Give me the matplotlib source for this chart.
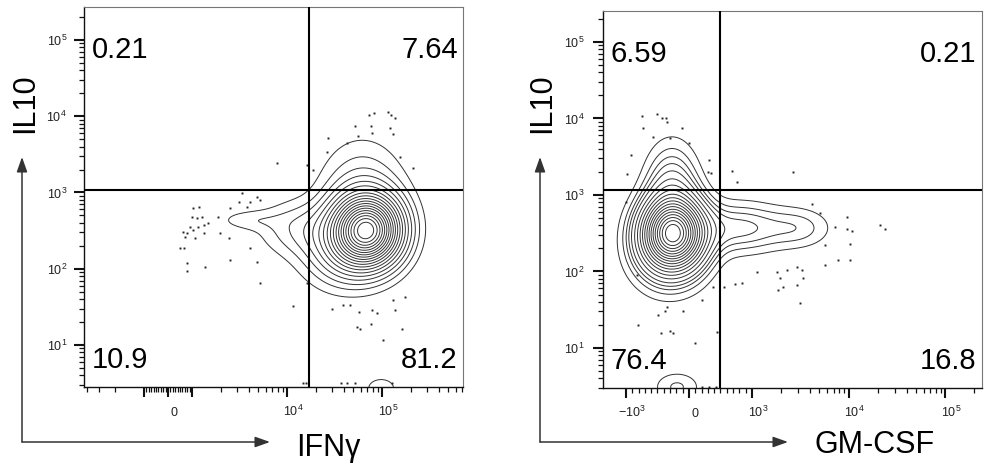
import numpy as np
import matplotlib.pyplot as plt
from matplotlib.transforms import ScaledTranslation

plt.rcParams['font.family'] = ['Liberation Sans', 'DejaVu Sans']
plt.rcParams['mathtext.default'] = 'regular'

# ---------- left plot: IFNy vs IL10 ----------
# cell populations: centre (IFNy, IL10), spread in decades, share of cells
ifn_pop_x = [69500, 61800, 40000, 13700, 3800, 98000]
ifn_pop_y = [322, 1000, 164, 342, 435, 2.7]
ifn_pop_sx = [0.23, 0.29, 0.29, 0.29, 0.22, 0.16]
ifn_pop_sy = [0.29, 0.45, 0.31, 0.24, 0.09, 0.14]
ifn_pop_w = [1.0, 0.2, 0.2, 0.09, 0.013, 0.0152]

# outlier events
ifn_dots_x = [625, 708, 500, 667, 792, 792, 1025, 1185, 1000, 1129, 1274, 917, 1025, 1157,
              1338, 1474, 792, 1075, 1338, 1370, 1878, 1971, 2512, 2455, 2512, 3125, 3360,
              3790, 4080, 4830, 5190, 7860, 4830, 5190, 4080, 11600, 16300, 16300, 18800,
              27000, 26300, 42800, 52000, 55600, 73100, 82400, 76700, 78500, 115000, 123000,
              137000, 121000, 130000, 155000, 211000,
              29700, 38900, 46000, 57000, 78500, 88400, 76700, 54400, 58300, 102000, 137000,
              163000, 175000, 130000, 14700, 16000, 37100, 42800, 52000, 127000]
ifn_dots_y = [303, 261, 187, 187, 119, 93, 627, 646, 477, 463, 477, 353, 322, 353,
              375, 398, 294, 253, 294, 105, 477, 294, 627, 253, 130, 750, 985,
              646, 750, 873, 798, 2440, 123, 65, 187, 32, 2300, 65, 1970,
              5190, 3400, 4460, 7450, 5500, 10400, 11000, 7450, 6030, 11400, 10400,
              9480, 7010, 5850, 2920, 2100,
              30, 33, 33, 27, 29, 26, 19, 17, 16, 11.6, 29,
              16, 43, 39, 3.2, 3.2, 3.2, 3.2, 3.2, 3.2]

ifn_quads = ["0.21", "7.64", "10.9", "81.2"]
ifn_gate_x = 17000
ifn_gate_y = 1080

# ---------- right plot: GM-CSF vs IL10 ----------
gm_pop_x = [-254, -270, -333, 810, 3140, -190]
gm_pop_y = [318, 1160, 164, 371, 371, 3.1]
gm_pop_sx = [0.21, 0.18, 0.25, 0.31, 0.23, 0.17]
gm_pop_sy = [0.29, 0.39, 0.33, 0.22, 0.18, 0.14]
gm_pop_w = [1.0, 0.2, 0.2, 0.15, 0.05, 0.028]

gm_dots_x = [-746, -730, -508, -429, -365, -349, -111, -571, -302, 0, -921, -984, 317, 302,
             349, 683, 762, 2660, -1000, 4180, 5070, 7240, 9640, 9640, 10900, 10400, 7780,
             10400, 5700, 21200, 23900, 5700, 1130, 1820, 2310, 2930, 3300, 1950, 3380,
             2100, 1860, 2930, 3140, 841, 730, 556, 381, 206, -825, -492, -381, -349, -95,
             -810, -444, -302, -254, 95, 444, 206, 317, 430]
gm_dots_y = [10800, 7510, 11500, 10200, 10200, 9000, 7510, 5730, 5560, 4790, 3330, 1880, 2870, 2000,
             1940, 2060, 1480, 2000, 809, 762, 582, 382, 515, 360, 338, 229, 141,
             141, 122, 405, 360, 222, 98, 98, 105, 115, 105, 82, 82,
             63, 57, 67, 39, 71, 69, 63, 63, 42, 90, 27, 30, 34, 30,
             20, 15.7, 16.7, 15.7, 11.6, 16.2, 3.1, 3.1, 3.1]

gm_quads = ["6.59", "0.21", "76.4", "16.8"]
gm_gate_x = 492
gm_gate_y = 1160

# ticks
ifn_xticks = [-1000, 0, 1000, 1e4, 1e5]
ifn_xticklabels = ['', '0', '', '$10^4$', '$10^5$']
gm_xticks = [-1000, 0, 1000, 1e4, 1e5]
gm_xticklabels = ['$-10^3$', '0', '$10^3$', '$10^4$', '$10^5$']
yticks = [10, 100, 1e3, 1e4, 1e5]
yticklabels = ['$10^1$', '$10^2$', '$10^3$', '$10^4$', '$10^5$']

ifn_xminor = ([-4000, -3000, -2000] + [k * 100 for k in range(-9, 10) if k != 0]
              + [k * m for m in (1e3, 1e4, 1e5) for k in range(2, 10)][:-2])
gm_xminor = ([k * 100 for k in range(-9, 10) if k != 0]
             + [k * m for m in (1e3, 1e4) for k in range(2, 10)] + [2e5])
yminor = [k * m for m in (1, 10, 100, 1e3, 1e4) for k in range(2, 10)] + [2e5]

fig = plt.figure(figsize=(9.84, 4.68), dpi=100)
ax1 = fig.add_axes([84 / 984, 81 / 468, 379 / 984, 380 / 468])
ax2 = fig.add_axes([603 / 984, 80 / 468, 379 / 984, 377 / 468])


def draw_panel(ax, linscale, xlim, ylim, pop_x, pop_y, pop_sx, pop_sy, pop_w,
               dots_x, dots_y, gate_x, gate_y, quads, xticks, xticklabels, xminor, ypad):
    ax.set_xscale('symlog', linthresh=1000, linscale=linscale)
    ax.set_yscale('log')
    ax.set_xlim(xlim)
    ax.set_ylim(ylim)

    # density on a grid in decade units of the axis scales
    tx = ax.xaxis.get_transform()
    u0, u1 = tx.transform(np.array(xlim, float)) / 1000
    v0, v1 = np.log10(ylim)
    U, V = np.meshgrid(np.linspace(u0, u1, 500), np.linspace(v0, v1, 500))
    cu = tx.transform(np.array(pop_x, float)) / 1000
    cv = np.log10(pop_y)
    Z = np.zeros_like(U)
    for i in range(len(pop_w)):
        Z += pop_w[i] / (pop_sx[i] * pop_sy[i]) * np.exp(
            -0.5 * (((U - cu[i]) / pop_sx[i]) ** 2 + ((V - cv[i]) / pop_sy[i]) ** 2))

    # 5% probability contours
    zs = np.sort(Z.ravel())[::-1]
    cum = np.cumsum(zs)
    cum /= cum[-1]
    levels = sorted(set(zs[np.searchsorted(cum, p)] for p in np.arange(0.05, 0.96, 0.05)))
    X = tx.inverted().transform(U.ravel() * 1000).reshape(U.shape)
    ax.contour(X, 10 ** V, Z, levels=levels, colors='#333333', linewidths=0.7)

    ax.plot(dots_x, dots_y, 's', ms=1.4, mew=0, color='#222222', zorder=2)

    ax.axvline(gate_x, color='black', lw=1.5, zorder=3)
    ax.axhline(gate_y, color='black', lw=1.5, zorder=3)

    kw = dict(transform=ax.transAxes, fontsize=21, color='black')
    ax.text(0.02, 0.866, quads[0], ha='left', va='baseline', **kw)
    ax.text(0.986, 0.866, quads[1], ha='right', va='baseline', **kw)
    ax.text(0.02, 0.051, quads[2], ha='left', va='baseline', **kw)
    ax.text(0.986, 0.051, quads[3], ha='right', va='baseline', **kw)

    ax.set_xticks(xticks)
    ax.set_xticklabels(xticklabels)
    ax.set_xticks(xminor, minor=True)
    ax.set_yticks(yticks)
    ax.set_yticklabels(yticklabels)
    ax.set_yticks(yminor, minor=True)
    ax.set_xlim(xlim)
    ax.set_ylim(ylim)

    ax.tick_params(which='major', direction='out', length=7.2, width=1.5,
                   labelsize=9, labelcolor='#222222', color='#111111')
    ax.tick_params(which='minor', direction='out', length=3.6, width=0.9, color='#111111')
    ax.tick_params(axis='x', which='major', pad=14)
    ax.tick_params(axis='y', which='major', pad=ypad)
    off = ScaledTranslation(0.06, 0, fig.dpi_scale_trans)
    for lab in ax.get_xticklabels():
        lab.set_verticalalignment('baseline')
        lab.set_transform(lab.get_transform() + off)

    for s in ('left', 'bottom'):
        ax.spines[s].set_color('#111111')
        ax.spines[s].set_linewidth(1.0)
    for s in ('top', 'right'):
        ax.spines[s].set_color('#777777')
        ax.spines[s].set_linewidth(0.8)


draw_panel(ax1, 0.2274, (-4280, 713000), (2.81, 271000),
           ifn_pop_x, ifn_pop_y, ifn_pop_sx, ifn_pop_sy, ifn_pop_w,
           ifn_dots_x, ifn_dots_y, ifn_gate_x, ifn_gate_y, ifn_quads,
           ifn_xticks, ifn_xticklabels, ifn_xminor, 5)
draw_panel(ax2, 0.5876, (-1730, 241700), (3.0, 254000),
           gm_pop_x, gm_pop_y, gm_pop_sx, gm_pop_sy, gm_pop_w,
           gm_dots_x, gm_dots_y, gm_gate_x, gm_gate_y, gm_quads,
           gm_xticks, gm_xticklabels, gm_xminor, 6)

# corner arrows and axis titles
arrow = dict(arrowstyle='-|>,head_length=0.9,head_width=0.32', color='#333333',
             lw=1.1, shrinkA=0, shrinkB=0)
for x0, x1 in ((22, 270), (540, 788)):
    fig.add_artist(plt.Annotation('', xy=(x0, 311), xytext=(x0, 26),
                                  xycoords='figure pixels', arrowprops=arrow))
    fig.add_artist(plt.Annotation('', xy=(x1, 26), xytext=(x0, 26),
                                  xycoords='figure pixels', arrowprops=arrow))

fig.text(25 / 984, 1 - 103 / 468, 'IL10', rotation=90, ha='center', va='center', fontsize=22)
fig.text(542 / 984, 1 - 103 / 468, 'IL10', rotation=90, ha='center', va='center', fontsize=22)
fig.text(328 / 984, 12 / 468, 'IFNγ', ha='center', va='baseline', fontsize=22)
fig.text(875 / 984, 15 / 468, 'GM-CSF', ha='center', va='baseline', fontsize=22)

fig.savefig('out.png', dpi=100)
